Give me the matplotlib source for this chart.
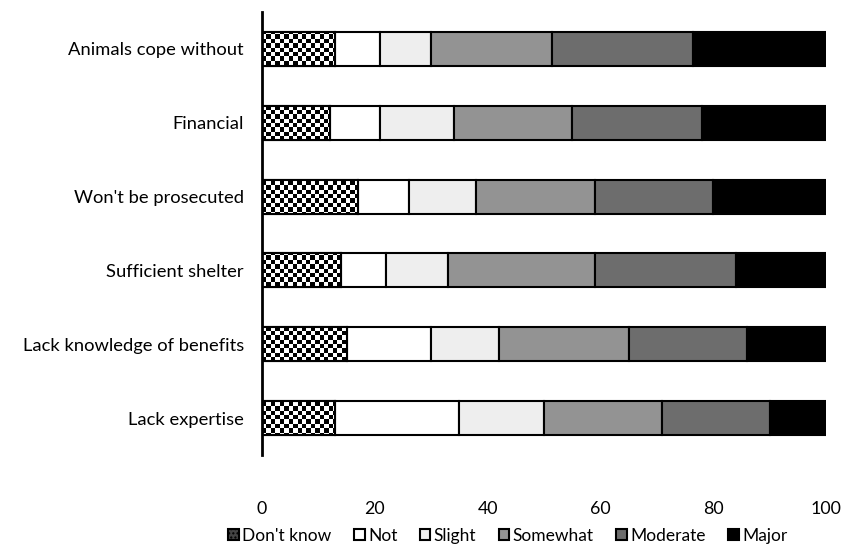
import numpy as np
import matplotlib.pyplot as plt
from matplotlib.patches import Patch

plt.rcParams['font.family'] = ['Lato', 'DejaVu Sans']

# Categories (bottom to top)
categories = ['Lack expertise', 'Lack knowledge of benefits', 'Sufficient shelter',
              "Won't be prosecuted", 'Financial', 'Animals cope without']
levels = ["Don't know", 'Not', 'Slight', 'Somewhat', 'Moderate', 'Major']

# Percent per level, same order as categories
dont_know = [13, 15, 14, 17, 12, 13]
not_barrier = [22, 15, 8, 9, 9, 8]
slight = [15, 12, 11, 12, 13, 9]
somewhat = [21, 23, 26, 21, 21, 21.5]
moderate = [19, 21, 25, 21, 23, 25]
major = [10, 14, 16, 20, 22, 23.5]

series = [dont_know, not_barrier, slight, somewhat, moderate, major]
colors = ['white', 'white', '#eeeeee', '#939393', '#6d6d6d', '#000000']

fig = plt.figure(figsize=(8.42, 5.48), dpi=100)
ax = fig.add_axes([262 / 842, 1 - 455 / 548, 564 / 842, 443 / 548])

y = np.arange(len(categories))
left = np.zeros(len(categories))
bar_groups = []
for vals, col in zip(series, colors):
    bars = ax.barh(y, vals, left=left, height=0.46, color=col,
                   edgecolor='black', linewidth=1.5, zorder=2)
    bar_groups.append(bars)
    left += np.array(vals)

# checkerboard fill for "Don't know"
cell = 4.4
nx = int(564 / cell)
ny = int(443 / cell)
checker = (np.indices((ny, nx)).sum(axis=0) % 2).astype(float)
for bar in bar_groups[0]:
    im = ax.imshow(checker, cmap='gray', extent=(0, 100, -0.5, len(categories) - 0.5),
                   aspect='auto', interpolation='nearest', zorder=2.5)
    im.set_clip_path(bar)
# border of the checkered bars on top
ax.barh(y, dont_know, height=0.46, color='none', edgecolor='black', linewidth=1.5, zorder=3)

ax.set_xlim(0, 100)
ax.set_ylim(-0.5, len(categories) - 0.5)

ax.set_yticks(y)
ax.set_yticklabels(categories, fontsize=13.2)
ax.set_xticks([0, 20, 40, 60, 80, 100])
ax.tick_params(axis='y', length=0, pad=13)
ax.tick_params(axis='x', length=0, pad=33, labelsize=12.8)
for s in ['top', 'right', 'bottom']:
    ax.spines[s].set_visible(False)
ax.spines['left'].set_linewidth(2)
ax.spines['left'].set_zorder(4)

handles = [Patch(facecolor='#444444', edgecolor='black', linewidth=1.5, hatch='....')]
handles += [Patch(facecolor=c, edgecolor='black', linewidth=1.5) for c in colors[1:]]
fig.legend(handles, levels, loc='center', bbox_to_anchor=(508 / 842, 1 - 536 / 548), ncol=6,
           frameon=False, fontsize=12.5, handlelength=0.6, handleheight=0.6,
           handletextpad=0.2, columnspacing=1.3, borderaxespad=0)

fig.savefig('out.png', dpi=100)
